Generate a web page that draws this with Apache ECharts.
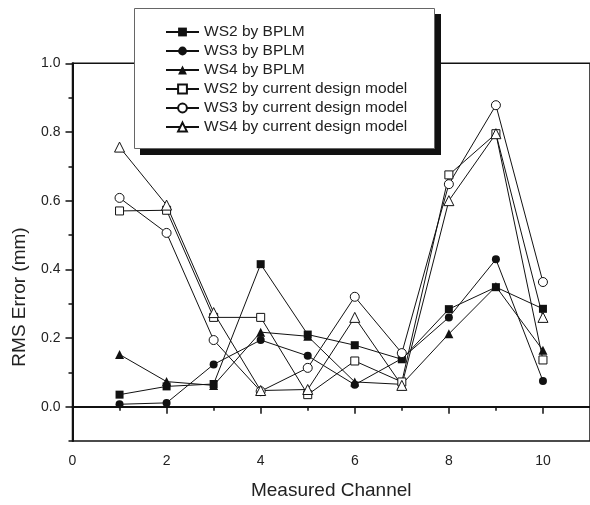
<!DOCTYPE html>
<html>
<head>
<meta charset="utf-8">
<script src="https://cdn.jsdelivr.net/npm/echarts@6/dist/echarts.min.js"></script>
<style>html,body{margin:0;padding:0;background:#fff;}#c{width:590px;height:505px;}</style>
</head>
<body>
<div id="c"></div>
<script>
var channels = [1, 2, 3, 4, 5, 6, 7, 8, 9, 10];
var ws2Bplm = [0.035, 0.059, 0.066, 0.415, 0.210, 0.179, 0.138, 0.284, 0.348, 0.285];
var ws3Bplm = [0.007, 0.011, 0.123, 0.194, 0.148, 0.064, 0.140, 0.260, 0.429, 0.075];
var ws4Bplm = [0.152, 0.073, 0.062, 0.217, 0.205, 0.072, 0.065, 0.212, 0.350, 0.164];
var ws2Cdm = [0.570, 0.572, 0.260, 0.260, 0.035, 0.133, 0.072, 0.675, 0.795, 0.136];
var ws3Cdm = [0.608, 0.506, 0.194, 0.045, 0.113, 0.320, 0.156, 0.648, 0.878, 0.363];
var ws4Cdm = [0.756, 0.587, 0.274, 0.047, 0.050, 0.260, 0.062, 0.600, 0.795, 0.260];
var seriesNames = ['WS2 by BPLM', 'WS3 by BPLM', 'WS4 by BPLM',
  'WS2 by current design model', 'WS3 by current design model', 'WS4 by current design model'];
var xMajor = [0, 2, 4, 6, 8, 10];
var xMinor = [1, 3, 5, 7, 9];
var yMajor = [0, 0.2, 0.4, 0.6, 0.8, 1.0];
var yMinor = [-0.1, 0.1, 0.3, 0.5, 0.7, 0.9];

var FONT = '"Liberation Sans", Arial, sans-serif';
var INK = '#111';

function pairs(vals) { return channels.map(function (c, i) { return [c, vals[i]]; }); }
function mk(name, vals, symbol, filled, size) {
  return {
    name: name, type: 'line', data: pairs(vals),
    symbol: symbol, symbolSize: size,
    lineStyle: { color: INK, width: 1 },
    itemStyle: filled ? { color: INK, borderColor: INK, borderWidth: 0 }
                      : { color: '#fff', borderColor: INK, borderWidth: 1 },
    emphasis: { disabled: true },
    animation: false
  };
}

var chart = echarts.init(document.getElementById('c'), null, { renderer: 'canvas' });
chart.setOption({
  backgroundColor: '#fff',
  animation: false,
  textStyle: { fontFamily: FONT },
  grid: { left: 72.5, right: -4, top: 63.3, bottom: 57.8, show: true, borderColor: INK, borderWidth: 1.5, backgroundColor: 'transparent' },
  legend: {
    orient: 'vertical', left: 134, top: 8, z: 20,
    padding: [16, 28, 13, 31],
    itemWidth: 33, itemHeight: 11, itemGap: 3,
    backgroundColor: 'transparent', borderWidth: 0,
    textStyle: { fontFamily: FONT, fontSize: 15.5, color: '#222', lineHeight: 16 },
    data: seriesNames
  },
  xAxis: [{
    type: 'value', min: 0, max: 11, position: 'bottom',
    name: 'Measured Channel', nameLocation: 'middle', nameGap: 40,
    nameTextStyle: { fontFamily: FONT, fontSize: 19, color: '#222' },
    axisLine: { show: true, lineStyle: { color: INK, width: 2 } },
    axisTick: { show: true, inside: false, length: 7, customValues: xMajor, lineStyle: { color: INK, width: 1.5 } },
    axisLabel: { show: true, margin: 13, fontSize: 14, color: '#222', fontFamily: FONT, customValues: xMajor },
    splitLine: { show: false }
  }, {
    type: 'value', min: 0, max: 11, position: 'bottom', offset: 0,
    axisLine: { show: false },
    axisTick: { show: true, length: 4, customValues: xMinor, lineStyle: { color: INK, width: 1.5 } },
    axisLabel: { show: false },
    splitLine: { show: false }
  }],
  yAxis: [{
    type: 'value', min: -0.1, max: 1.0, position: 'left',
    axisLine: { show: true, lineStyle: { color: INK, width: 2 } },
    axisTick: { show: true, length: 7, customValues: yMajor, lineStyle: { color: INK, width: 1.5 } },
    axisLabel: { show: true, margin: 12, fontSize: 14, color: '#222', fontFamily: FONT, customValues: yMajor,
      formatter: function (v) { return v.toFixed(1); } },
    splitLine: { show: false }
  }, {
    type: 'value', min: -0.1, max: 1.0, position: 'left', offset: 0,
    axisLine: { show: false },
    axisTick: { show: true, length: 4, customValues: yMinor, lineStyle: { color: INK, width: 1.5 } },
    axisLabel: { show: false },
    splitLine: { show: false }
  }],
  graphic: [{
    type: 'rect', z: 10, silent: true,
    shape: { x: 140, y: 14, width: 301, height: 141 },
    style: { fill: INK }
  }, {
    type: 'rect', z: 11, silent: true,
    shape: { x: 134.5, y: 8.5, width: 300, height: 140 },
    style: { fill: '#fff', stroke: '#666', lineWidth: 1 }
  }, {
    type: 'text', x: 20, y: 297, rotation: Math.PI / 2,
    style: { text: 'RMS Error (mm)', fontFamily: FONT, fontSize: 19, fill: '#222', align: 'center', verticalAlign: 'middle' }
  }],
  series: [
    mk(seriesNames[0], ws2Bplm, 'rect', true, 8),
    mk(seriesNames[1], ws3Bplm, 'circle', true, 8),
    mk(seriesNames[2], ws4Bplm, 'triangle', true, 9),
    mk(seriesNames[3], ws2Cdm, 'rect', false, 8),
    mk(seriesNames[4], ws3Cdm, 'circle', false, 9),
    mk(seriesNames[5], ws4Cdm, 'triangle', false, 10)
  ]
});
</script>
</body>
</html>
